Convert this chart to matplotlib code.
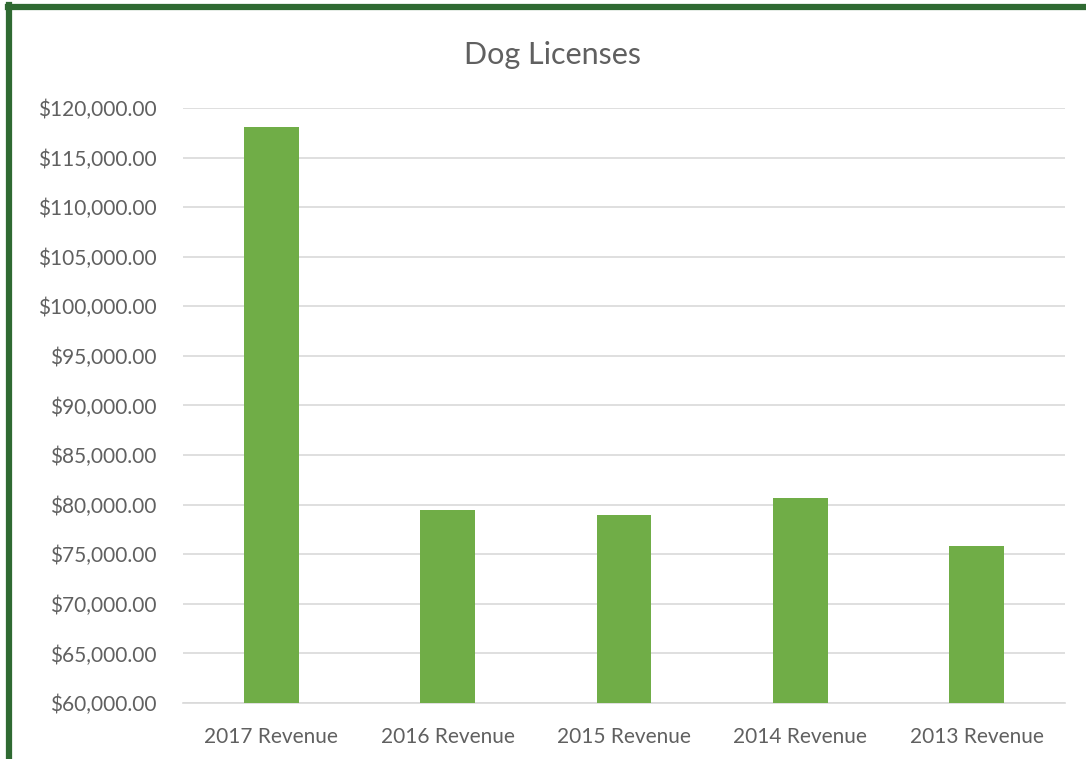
import matplotlib.pyplot as plt
from matplotlib.ticker import FuncFormatter, MultipleLocator
from matplotlib.lines import Line2D

categorias = ["2017 Revenue", "2016 Revenue", "2015 Revenue", "2014 Revenue", "2013 Revenue"]
ingresos = [118100, 79450, 78950, 80650, 75800]

plt.rcParams['font.family'] = ['Lato', 'DejaVu Sans']

fig = plt.figure(figsize=(10.86, 7.59), dpi=100)
ax = fig.add_axes([183 / 1086, 1 - 703 / 759, (1065 - 183) / 1086, (703 - 108) / 759])

x = range(len(categorias))
ax.bar(x, ingresos, width=0.31, color='#70ad47', zorder=3)

ax.set_ylim(60000, 120000)
ax.set_xlim(-0.5, len(categorias) - 0.5)
ax.yaxis.set_major_locator(MultipleLocator(5000))
ax.yaxis.set_major_formatter(FuncFormatter(lambda v, pos: f"${v:,.2f}"))
ax.set_xticks(list(x))
ax.set_xticklabels(categorias)

ax.grid(axis='y', color='#d9d9d9', linewidth=1.2, zorder=0)
for lado in ['top', 'right', 'left']:
    ax.spines[lado].set_visible(False)
ax.spines['bottom'].set_color('#d9d9d9')
ax.spines['bottom'].set_linewidth(1.2)
ax.tick_params(length=0, colors='#606060', labelsize=15)
ax.tick_params(axis='y', pad=19)
ax.tick_params(axis='x', pad=17)

fig.text(552 / 1086, 1 - 55 / 759, "Dog Licenses", ha='center', va='center',
         fontsize=22, color='#606060')

# Marco verde (solo arriba e izquierda)
fig.add_artist(Line2D([8 / 1086, 1], [1 - 7 / 759, 1 - 7 / 759], color='#2f6a32',
                      linewidth=4.5, transform=fig.transFigure))
fig.add_artist(Line2D([8.5 / 1086, 8.5 / 1086], [1 - 5 / 759, 1 - 757 / 759], color='#2f6a32',
                      linewidth=4.5, transform=fig.transFigure))

fig.savefig("out.png", dpi=100)
